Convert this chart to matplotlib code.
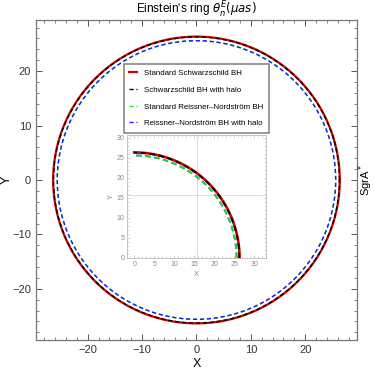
import numpy as np
import matplotlib.pyplot as plt
from matplotlib.ticker import MultipleLocator

# ring radii (micro-arcsec) for SgrA*
labels = ['Standard Schwarzschild BH', 'Schwarzschild BH with halo',
          'Standard Reissner\u2013Nordstr\u00f6m BH', 'Reissner\u2013Nordstr\u00f6m BH with halo']
radii = [26.35, 26.3, 25.6, 25.6]
colors = ['#d40000', 'black', '#22dd22', '#1a1aff']
styles = ['-', (0, (3, 2)), (0, (3, 2)), (0, (3, 2))]
widths = [1.6, 1.0, 1.0, 1.0]

main_ticks = [-20, -10, 0, 10, 20]
inset_ticks = [0, 5, 10, 15, 20, 25, 30]

plt.rcParams['font.family'] = ['Liberation Sans', 'DejaVu Sans']
plt.rcParams['mathtext.fontset'] = 'dejavusans'

fig = plt.figure(figsize=(3.74, 3.71), dpi=100)
ax = fig.add_axes([0.0963, 0.0836, 0.858, 0.8625])

t = np.linspace(0, 2 * np.pi, 721)
for r, c, ls, lw, lab in zip(radii, colors, styles, widths, labels):
    ax.plot(r * np.cos(t), r * np.sin(t), color=c, ls=ls, lw=lw, label=lab)

ax.set_xlim(-29.5, 29.5)
ax.set_ylim(-29.4, 29.4)
ax.set_xticks(main_ticks)
ax.set_yticks(main_ticks)
ax.xaxis.set_minor_locator(MultipleLocator(2))
ax.yaxis.set_minor_locator(MultipleLocator(2))
ax.tick_params(which='both', direction='in', top=True, right=True, color='#555555',
               labelsize=8, labelcolor='#333333')
ax.tick_params(which='major', length=4, width=0.7)
ax.tick_params(which='minor', length=2, width=0.5)
for s in ax.spines.values():
    s.set_color('#777777')
    s.set_linewidth(0.9)
ax.set_xlabel('X', fontsize=9, labelpad=2)
ax.set_ylabel('Y', fontsize=9)
ax.yaxis.set_label_coords(-0.073, 0.5)
ax.set_title("Einstein's ring $\\theta_n^E(\\mu as)$", fontsize=8.5, pad=4)
ax.text(1.026, 0.5, 'SgrA$^*$', rotation=90, transform=ax.transAxes,
        ha='center', va='center', fontsize=8)

leg = ax.legend(loc='upper left', bbox_to_anchor=(0.274, 0.862), fontsize=5.7,
                handlelength=1.0, handletextpad=0.8, borderpad=0.7, labelspacing=1.15,
                borderaxespad=0, fancybox=False, framealpha=1, edgecolor='#888888')
leg.get_frame().set_linewidth(1.2)

# inset: first quadrant
axi = fig.add_axes([0.3396, 0.3046, 0.372, 0.3315])
tq = np.linspace(0, np.pi / 2, 200)
order = [0, 1, 3, 2]
for i in order:
    axi.plot(radii[i] * np.cos(tq), radii[i] * np.sin(tq), color=colors[i],
             ls=styles[i], lw=widths[i] + 0.3)
axi.set_xlim(-1.8, 33)
axi.set_ylim(0, 30.7)
axi.set_xticks(inset_ticks)
axi.set_yticks(inset_ticks)
axi.xaxis.set_minor_locator(MultipleLocator(1))
axi.yaxis.set_minor_locator(MultipleLocator(1))
axi.tick_params(which='both', direction='in', top=True, right=True, color='#bbbbbb',
                labelsize=5, labelcolor='#888888', pad=2)
axi.tick_params(which='major', length=2.5, width=0.5)
axi.tick_params(which='minor', length=1.2, width=0.4)
for s in axi.spines.values():
    s.set_color('#bbbbbb')
    s.set_linewidth(0.6)
axi.axvline(15.7, color='#dddddd', lw=0.7, zorder=0)
axi.axhline(15.6, color='#dddddd', lw=0.7, zorder=0)
axi.set_xlabel('X', fontsize=5.5, color='#888888', labelpad=2)
axi.set_ylabel('Y', fontsize=5.5, color='#888888', labelpad=1)

fig.savefig('out.png', dpi=100)
